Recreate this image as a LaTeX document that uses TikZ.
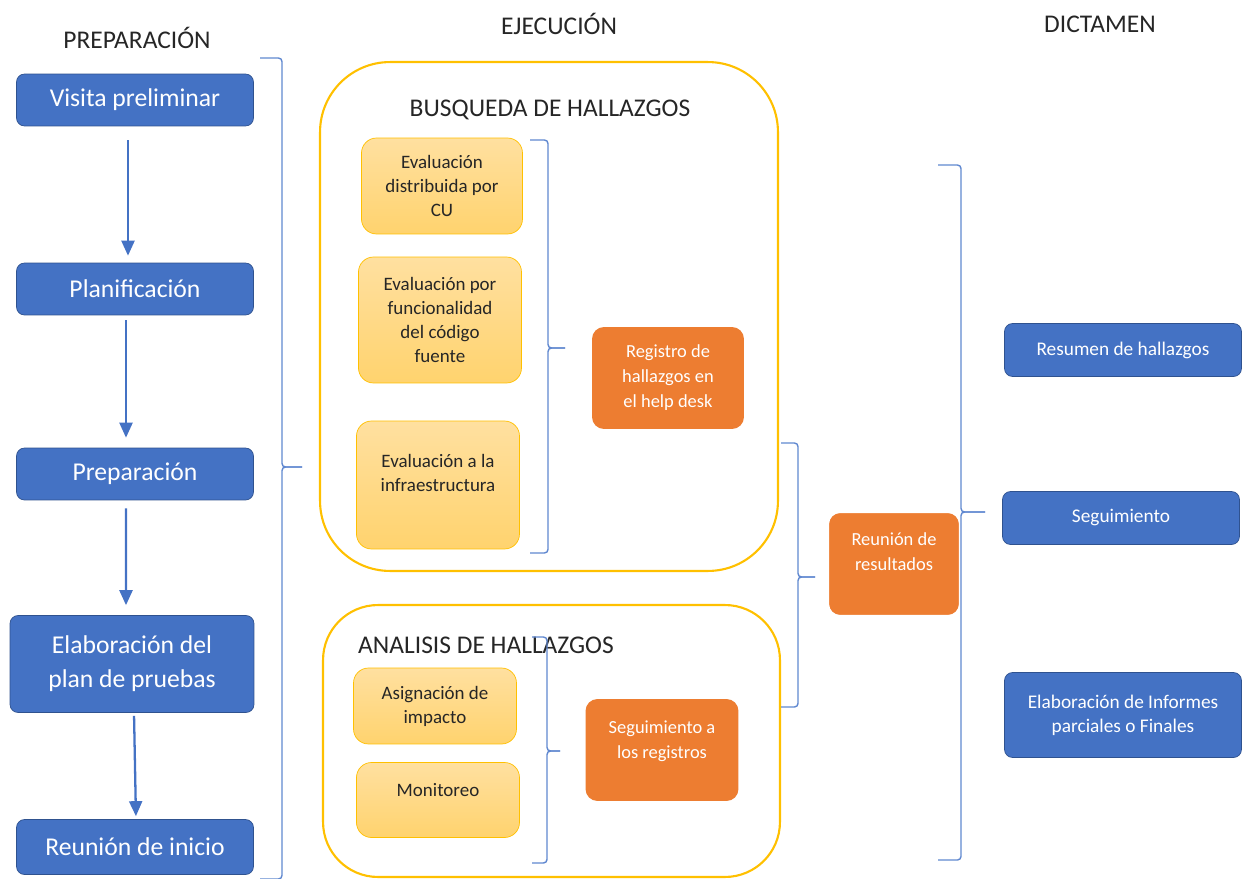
\documentclass[tikz,border=0pt]{standalone}
\usepackage{fontspec}
\setmainfont{Carlito}
\usetikzlibrary{arrows.meta,positioning,calc}
\definecolor{boxblue}{RGB}{68,114,196}
\definecolor{lineblue}{RGB}{47,82,143}
\definecolor{boxorange}{RGB}{237,125,49}
\definecolor{goldline}{RGB}{255,192,0}
\definecolor{softtop}{RGB}{255,224,160}
\definecolor{softbot}{RGB}{255,211,110}
\definecolor{bktblue}{RGB}{96,136,208}

\begin{document}
\begin{tikzpicture}[x=0.02cm, y=-0.02cm,
  title/.style={font=\fontsize{14.5}{17}\selectfont, text=black!85},
  bluebox/.style={draw=lineblue, fill=boxblue, rounded corners=0.16cm, text=white, align=center, minimum width=4.74cm, minimum height=1.04cm, font=\fontsize{14.6}{19.3}\selectfont},
  dictbox/.style={draw=lineblue, fill=boxblue, rounded corners=0.16cm, text=white, align=center, minimum width=4.74cm, minimum height=1.06cm, font=\fontsize{11}{13.6}\selectfont},
  softbox/.style={draw=goldline, top color=softtop, bottom color=softbot, rounded corners=0.3cm, align=center, minimum width=3.26cm, text=black!85, font=\fontsize{10.8}{13.6}\selectfont},
  hotbox/.style={fill=boxorange, rounded corners=0.24cm, text=white, align=center, minimum width=3.06cm, minimum height=2.04cm, font=\fontsize{10.5}{14.2}\selectfont},
  frame/.style={draw=goldline, line width=1.2pt, fill=white},
  bkt/.style={draw=bktblue, line width=0.8pt, rounded corners=0.07cm},
  arr/.style={-{Triangle[length=3mm, width=2.6mm]}, draw=boxblue, line width=1.3pt}
]
\useasboundingbox (0,0) rectangle (1245,879);

% titulos de columna
\node[title] (tprep) at (137,38) {PREPARACIÓN};
\node[title] (tejec) at (559,24) {EJECUCIÓN};
\node[title] (tdict) at (1100,24) {DICTAMEN};

% preparacion
\node[bluebox] (visita) at (135,100) {Visita preliminar};
\node[bluebox] (plan) at (135,289) {Planificación};
\node[bluebox] (prep) at (135,474) {Preparación};
\node[bluebox, minimum width=4.88cm, minimum height=1.94cm] (elab) at (132,664) {Elaboración del\\plan de pruebas};
\node[bluebox, minimum height=1.1cm] (inicio) at (135,847) {Reunión de inicio};

\draw[arr, shorten <=0.28cm, shorten >=0.14cm] ([xshift=-0.14cm]visita.south) -- ([xshift=-0.14cm]plan.north);
\draw[arr, shorten <=0.1cm, shorten >=0.2cm] ([xshift=-0.18cm]plan.south) -- ([xshift=-0.18cm]prep.north);
\draw[arr, shorten <=0.16cm, shorten >=0.2cm] ([xshift=-0.18cm]prep.south) -- ([xshift=-0.12cm]elab.north);
\draw[arr, shorten <=0.06cm, shorten >=0.06cm] ([xshift=0.04cm]elab.south) -- ([xshift=0.02cm]inicio.north);

\draw[bkt] (260,58) -| (282,467) -- (302,467);
\draw[bkt] (302,467) -| (282,879) -- (260,879);

% ejecucion: busqueda
\node[frame, rounded corners=1.4cm, minimum width=9.16cm, minimum height=10.18cm] (busq) at (549,316.5) {};
\node[title] (tbusq) at (550,110) {BUSQUEDA DE HALLAZGOS};
\node[softbox, minimum width=3.22cm, minimum height=1.92cm] (evcu) at (442,186) {Evaluación\\distribuida por\\CU};
\node[softbox, minimum height=2.52cm] (evfun) at (440,320) {Evaluación por\\funcionalidad\\del código\\fuente};
\node[softbox, minimum height=2.56cm, text depth=0.5cm] (evinf) at (438,485) {Evaluación a la\\infraestructura};
\node[hotbox, minimum width=3.04cm] (regis) at (668,378) {Registro de\\hallazgos en\\el help desk};

\draw[bkt] (530,140) -| (548,348) -- (565,348);
\draw[bkt] (565,348) -| (548,553) -- (530,553);

% ejecucion: analisis
\node[frame, rounded corners=1.1cm, minimum width=9.14cm, minimum height=5.44cm] (anal) at (551.5,741) {};
\node[title, anchor=west] (tanal) at (352,645) {ANALISIS DE HALLAZGOS};
\node[softbox, minimum height=1.52cm] (asig) at (435,706) {Asignación de\\impacto};
\node[softbox, minimum height=1.5cm, text depth=0.4cm] (moni) at (438,800) {Monitoreo};
\node[hotbox, text depth=0.4cm] (segreg) at (662,750) {Seguimiento a\\los registros};

\draw[bkt] (532,637) -| (547,751) -- (560,751);
\draw[bkt] (560,751) -| (547,863) -- (532,863);

% reunion de resultados
\draw[bkt] (781,443) -| (798,577) -- (815,577);
\draw[bkt] (815,577) -| (798,707) -- (781,707);
\node[hotbox, draw=white, line width=1.2pt, minimum width=2.64cm, minimum height=2.08cm, text depth=0.5cm] (reunres) at (894,564) {Reunión de\\resultados};

% dictamen
\draw[bkt] (938,165) -| (961,512) -- (985,512);
\draw[bkt] (985,512) -| (961,860) -- (938,860);
\node[dictbox] (resum) at (1123,350) {Resumen de hallazgos};
\node[dictbox] (segui) at (1121,518) {Seguimiento};
\node[dictbox, minimum height=1.7cm] (inform) at (1123,715) {Elaboración de Informes\\parciales o Finales};
\end{tikzpicture}
\end{document}
